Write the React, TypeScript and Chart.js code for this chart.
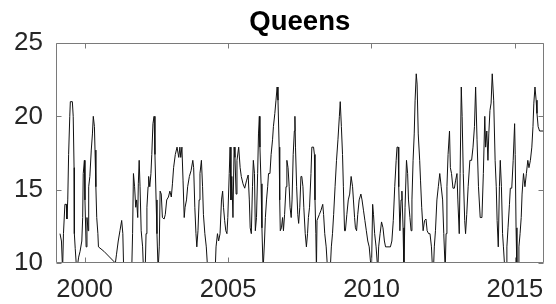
import React, { useEffect, useRef } from "react";
import { Chart, registerables } from "chart.js";

Chart.register(...registerables);

const titleText = "Queens";
const xTickValues = [2000, 2005, 2010, 2015];
const yTickValues = [10, 15, 20, 25];

const years = [
  1999.14, 1999.19, 1999.23, 1999.26, 1999.31, 1999.36, 1999.38, 1999.41, 1999.44, 1999.48,
  1999.50, 1999.57, 1999.60, 1999.63, 1999.64, 1999.67, 1999.71, 1999.76, 1999.79, 1999.84,
  1999.90, 1999.93, 1999.95, 1999.99, 2000.01, 2000.05, 2000.08, 2000.12, 2000.14, 2000.18,
  2000.23, 2000.27, 2000.30, 2000.34, 2000.36, 2000.39, 2000.42, 2000.46, 2000.48, 2000.67,
  2001.07, 2001.11, 2001.17, 2001.23, 2001.29, 2001.33, 2001.36, 2001.50, 2001.64, 2001.67,
  2001.70, 2001.74, 2001.78, 2001.81, 2001.85, 2001.87, 2001.90, 2001.93, 2001.97, 2002.02,
  2002.05, 2002.11, 2002.14, 2002.17, 2002.21, 2002.23, 2002.27, 2002.31, 2002.34, 2002.38,
  2002.42, 2002.45, 2002.49, 2002.52, 2002.56, 2002.60, 2002.63, 2002.67, 2002.71, 2002.77,
  2002.81, 2002.86, 2002.92, 2002.97, 2003.02, 2003.06, 2003.10, 2003.16, 2003.22, 2003.28,
  2003.32, 2003.35, 2003.39, 2003.43, 2003.47, 2003.50, 2003.55, 2003.59, 2003.65, 2003.71,
  2003.77, 2003.80, 2003.84, 2003.88, 2003.91, 2003.95, 2003.99, 2004.02, 2004.07, 2004.11,
  2004.14, 2004.19, 2004.24, 2004.29, 2004.55, 2004.58, 2004.63, 2004.67, 2004.72, 2004.77,
  2004.81, 2004.84, 2004.88, 2004.92, 2004.96, 2004.99, 2005.04, 2005.07, 2005.10, 2005.13,
  2005.17, 2005.21, 2005.24, 2005.28, 2005.31, 2005.37, 2005.42, 2005.46, 2005.52, 2005.58,
  2005.64, 2005.70, 2005.74, 2005.77, 2005.81, 2005.85, 2005.88, 2005.92, 2005.95, 2005.99,
  2006.03, 2006.06, 2006.09, 2006.11, 2006.15, 2006.18, 2006.22, 2006.27, 2006.30, 2006.34,
  2006.38, 2006.41, 2006.46, 2006.50, 2006.55, 2006.58, 2006.63, 2006.67, 2006.71, 2006.74,
  2006.78, 2006.80, 2006.82, 2006.86, 2006.90, 2006.93, 2006.97, 2007.02, 2007.05, 2007.09,
  2007.13, 2007.16, 2007.20, 2007.23, 2007.27, 2007.31, 2007.33, 2007.35, 2007.39, 2007.43,
  2007.46, 2007.50, 2007.54, 2007.57, 2007.61, 2007.64, 2007.69, 2007.73, 2007.77, 2007.80,
  2007.84, 2007.89, 2007.92, 2007.98, 2008.01, 2008.03, 2008.06, 2008.08, 2008.10, 2008.18,
  2008.24, 2008.30, 2008.33, 2008.37, 2008.42, 2008.47, 2008.56, 2008.60, 2008.64, 2008.68,
  2008.73, 2008.78, 2008.83, 2008.88, 2008.91, 2008.95, 2008.99, 2009.02, 2009.06, 2009.09,
  2009.14, 2009.19, 2009.24, 2009.29, 2009.34, 2009.37, 2009.41, 2009.44, 2009.48, 2009.52,
  2009.57, 2009.63, 2009.67, 2009.72, 2009.77, 2009.82, 2009.87, 2009.92, 2009.96, 2010.00,
  2010.04, 2010.07, 2010.11, 2010.16, 2010.22, 2010.25, 2010.30, 2010.35, 2010.40, 2010.45,
  2010.49, 2010.66, 2010.71, 2010.76, 2010.81, 2010.86, 2010.89, 2010.93, 2010.95, 2010.99,
  2011.03, 2011.06, 2011.10, 2011.13, 2011.17, 2011.22, 2011.26, 2011.29, 2011.34, 2011.38,
  2011.41, 2011.45, 2011.49, 2011.52, 2011.56, 2011.59, 2011.63, 2011.68, 2011.71, 2011.75,
  2011.80, 2011.85, 2011.90, 2011.94, 2011.99, 2012.04, 2012.09, 2012.13, 2012.16, 2012.19,
  2012.23, 2012.28, 2012.33, 2012.38, 2012.43, 2012.48, 2012.52, 2012.57, 2012.60, 2012.63,
  2012.67, 2012.72, 2012.75, 2012.79, 2012.84, 2012.89, 2012.93, 2012.98, 2013.01, 2013.06,
  2013.09, 2013.13, 2013.16, 2013.20, 2013.25, 2013.28, 2013.32, 2013.37, 2013.43, 2013.49,
  2013.54, 2013.59, 2013.63, 2013.68, 2013.73, 2013.79, 2013.85, 2013.90, 2013.95, 2013.98,
  2014.02, 2014.06, 2014.09, 2014.13, 2014.17, 2014.21, 2014.26, 2014.31, 2014.35, 2014.38,
  2014.42, 2014.46, 2014.49, 2014.53, 2014.57, 2014.60, 2014.65, 2014.70, 2014.72, 2014.76,
  2014.81, 2014.84, 2014.89, 2014.94, 2014.99, 2015.01, 2015.04, 2015.07, 2015.12, 2015.14,
  2015.18, 2015.22, 2015.25, 2015.30, 2015.35, 2015.40, 2015.45, 2015.49, 2015.54, 2015.59,
  2015.63, 2015.66, 2015.70, 2015.74, 2015.77, 2015.81, 2015.86, 2015.98,
];

const values = [
  12, 11.5, 9.5, 12, 14, 14, 13, 14.3, 17.4, 20,
  21, 21, 20, 16.5, 12, 11, 9.8, 10, 10.4, 10.8,
  11.5, 13.1, 16.1, 17, 14.3, 11.1, 13.1, 12.2, 15.2, 15.9,
  17.7, 18.8, 20, 19.3, 17.7, 15.2, 13.1, 12, 11.1, 10.8,
  10, 10.6, 11.5, 12.2, 12.9, 12, 9.5, 9, 9.5, 12,
  16.1, 15.2, 13.8, 14.3, 13.1, 15.4, 17, 15.2, 12.2, 11.1,
  9.5, 9.5, 12, 13.8, 15.2, 15.9, 15.2, 16.1, 17.4, 19.5,
  20, 17.4, 14.3, 12, 9.5, 11.1, 14.9, 14.7, 13.1, 13,
  13.3, 14.3, 14.5, 14.9, 14.5, 15.4, 16.5, 17.4, 17.9, 17.2,
  17.9, 17.2, 17.9, 15.6, 13.1, 13.8, 14.3, 15.2, 15.9, 16.3,
  17, 16.5, 13.8, 12, 11.1, 12.2, 14.3, 16.1, 17, 15.2,
  13.3, 12, 11.1, 9.5, 9.5, 11.1, 12, 11.5, 12, 14.3,
  14.9, 13.8, 12.9, 12.2, 12, 13.1, 16.1, 17.9, 14.3, 15.9,
  13.1, 17.9, 17.2, 14.7, 17, 17.9, 16.5, 15.9, 15.4, 15.1,
  15.6, 16, 14.3, 12.4, 12, 15.2, 17, 16.1, 12.2, 13.1,
  16.1, 18.8, 20, 17.9, 15.4, 12.4, 9.5, 11.5, 13.1, 14.3,
  15.2, 16.1, 16.1, 17.4, 18.4, 19.3, 20.2, 21.1, 22, 21.1,
  17.9, 14.3, 12.2, 12.4, 13.1, 12.2, 13.3, 15.2, 17, 16.5,
  15.2, 13.8, 13.1, 14.3, 17.4, 19, 20, 17.9, 15.2, 13.3,
  12.7, 13.8, 15.9, 15.9, 15.2, 13.8, 12, 11.1, 12, 13.1,
  13.8, 16.1, 17.9, 17.9, 17.4, 14.3, 12, 9.5, 12.9, 13.3,
  13.6, 14, 13.3, 12, 11.1, 9.5, 9.5, 11.1, 12, 13.3,
  15.2, 17, 18.4, 20, 21, 19.3, 17.4, 15.2, 12.2, 12.2,
  13.3, 14.3, 14.7, 15.9, 15.2, 14.3, 13.1, 12.4, 12.2, 13.3,
  14.3, 14.7, 14.3, 13.6, 12.9, 12.2, 11.5, 11.1, 10.2, 9.5,
  14, 13.3, 12, 11.1, 9.5, 11.1, 12, 12.8, 12.4, 11.5,
  11.1, 11.1, 11.5, 12.9, 15.2, 17, 17.9, 17.9, 15.2, 12.2,
  14.3, 14.9, 12.4, 9.5, 13.8, 17, 16.1, 14.3, 13.1, 12.2,
  14.3, 17, 18.8, 21.1, 22.9, 22.2, 18.8, 17, 15.6, 13.8,
  12.2, 12.9, 13, 12.2, 12, 12, 11.1, 9.5, 9.5, 11.1,
  12.2, 14.3, 15.2, 16.1, 15.2, 14.3, 12, 9.5, 12, 15.2,
  17.4, 19, 16.5, 16.1, 15.1, 15.1, 15.6, 16.1, 14.3, 12,
  16.1, 22, 20, 16.1, 12.9, 12, 13.3, 15.2, 17, 17,
  17.9, 19.3, 22, 18.4, 15.2, 13.1, 13.1, 16.1, 20, 17.9,
  19, 17, 18.8, 20.4, 20.9, 22.9, 21.1, 17, 15.2, 12.9,
  11.1, 15.2, 17, 15.2, 12, 11.1, 9.5, 9.5, 11.1, 12.4,
  14, 15.1, 15.1, 17, 19.5, 17.4, 12.4, 9.5, 9.5, 11.1,
  12, 13.1, 14.7, 16.1, 15.2, 16.1, 17, 16.5, 17, 17.9,
  19.3, 20.9, 22, 21.1, 20.2, 19.3, 19, 19,
];

const FONT = "'Liberation Sans', Arial, Helvetica, sans-serif";
const AXIS_COLOR = "#7a7a7a";
const TEXT_COLOR = "#262626";

const boxPlugin = {
  id: "matlabBox",
  afterDatasetsDraw(chart: any) {
    const { ctx, chartArea: a, scales } = chart;
    const L = Math.round(a.left) + 0.5;
    const R = Math.round(a.right) - 0.5;
    const T = Math.round(a.top) + 0.5;
    const B = Math.round(a.bottom) - 0.5;
    const tl = 5;
    ctx.save();
    ctx.strokeStyle = AXIS_COLOR;
    ctx.lineWidth = 1;
    ctx.beginPath();
    ctx.rect(L, T, R - L, B - T);
    for (const v of xTickValues) {
      const x = Math.round(scales.x.getPixelForValue(v)) + 0.5;
      ctx.moveTo(x, B);
      ctx.lineTo(x, B - tl);
      ctx.moveTo(x, T);
      ctx.lineTo(x, T + tl);
    }
    for (const v of yTickValues) {
      const y = Math.round(scales.y.getPixelForValue(v)) + 0.5;
      ctx.moveTo(L, y);
      ctx.lineTo(L + tl, y);
      ctx.moveTo(R, y);
      ctx.lineTo(R - tl, y);
    }
    ctx.stroke();
    ctx.restore();
  },
};

export default function App() {
  const canvasRef = useRef<HTMLCanvasElement | null>(null);

  useEffect(() => {
    document.body.style.margin = "0";
    const canvas = canvasRef.current;
    if (!canvas) return;
    const points = years.map((x, i) => ({ x, y: values[i] }));
    const chart = new Chart(canvas, {
      type: "line",
      data: {
        datasets: [
          {
            label: titleText,
            data: points,
            borderColor: "#111111",
            borderWidth: 1,
            pointRadius: 0,
            tension: 0,
            fill: false,
          },
        ],
      },
      options: {
        animation: false,
        responsive: false,
        maintainAspectRatio: false,
        devicePixelRatio: 1,
        layout: { padding: { left: 0, right: 1, top: 0, bottom: 0 } },
        plugins: {
          legend: { display: false },
          tooltip: { enabled: false },
          title: {
            display: true,
            fullSize: false,
            text: titleText,
            color: "#000",
            font: { family: FONT, size: 27.5, weight: "bold", lineHeight: 1.2 },
            padding: { top: 5.5, bottom: 4.5 },
          },
        },
        scales: {
          x: {
            type: "linear",
            min: 1999,
            max: 2016,
            grid: { display: false, drawTicks: false },
            border: { display: false },
            afterBuildTicks: (scale: any) => {
              scale.ticks = xTickValues.map((v) => ({ value: v }));
            },
            afterFit: (scale: any) => {
              scale.height = 41;
            },
            ticks: {
              autoSkip: false,
              maxRotation: 0,
              padding: 12,
              color: TEXT_COLOR,
              font: { family: FONT, size: 25.5 },
              callback: (v: any) => String(v),
            },
          },
          y: {
            type: "linear",
            min: 10,
            max: 25,
            grid: { display: false, drawTicks: false },
            border: { display: false },
            afterBuildTicks: (scale: any) => {
              scale.ticks = yTickValues.map((v) => ({ value: v }));
            },
            afterFit: (scale: any) => {
              scale.width = 56;
            },
            ticks: {
              autoSkip: false,
              padding: 13,
              color: TEXT_COLOR,
              font: { family: FONT, size: 26 },
              callback: (v: any) => String(v),
            },
          },
        },
      },
      plugins: [boxPlugin],
    });
    return () => chart.destroy();
  }, []);

  return (
    <div style={{ position: "absolute", left: 0, top: 0, width: 556, height: 304, background: "#fff" }}>
      <canvas ref={canvasRef} width={556} height={304} style={{ width: 556, height: 304, display: "block" }} />
    </div>
  );
}
